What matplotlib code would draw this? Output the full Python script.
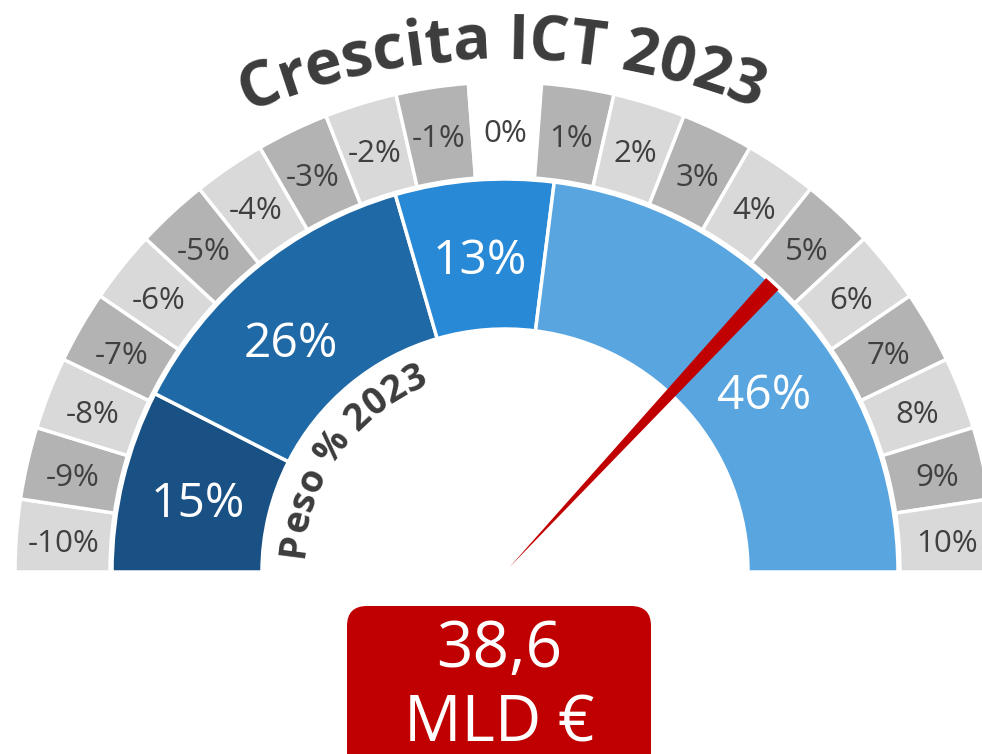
import matplotlib
matplotlib.use('Agg')
import numpy as np
import matplotlib.pyplot as plt
from matplotlib.patches import Wedge, Polygon, FancyBboxPatch
from matplotlib.font_manager import FontProperties

# --- dati ---
title = "Crescita ICT 2023"
inner_title = "Peso % 2023"
growth_ticks = list(range(-10, 11))
tick_labels = [f"{v}%" for v in growth_ticks]
weights = [15, 26, 13, 46]
weight_labels = [f"{w}%" for w in weights]
growth_value = 5.0
total_value = "38,6"
total_unit = "MLD €"

plt.rcParams['font.family'] = ['Open Sans', 'DejaVu Sans']

fig = plt.figure(figsize=(9.82, 7.54), dpi=100)
ax = fig.add_axes([0, 0, 1, 1])
# 1 unita' = 1 pixel, centro del gauge in (0, 0)
ax.set_xlim(-505, 477)
ax.set_ylim(-182, 572)
ax.axis('off')

text_gray = '#404040'
dark_text = '#3c3c3c'


def arc_text(s, r, center_deg, cy, size, **kw):
    # testo lungo un arco, in senso orario, con la parte alta verso l'esterno
    rend = fig.canvas.get_renderer()
    prop = FontProperties(family=plt.rcParams['font.family'], size=size,
                          weight=kw.get('fontweight', 'normal'))
    def w(t):
        return rend.get_text_width_height_descent(t, prop, ismath=False)[0]
    bar = w('|')
    lefts = [w(s[:i] + '|') - bar for i in range(len(s) + 1)]
    start = np.radians(center_deg) + lefts[-1] / 2 / r
    for i, ch in enumerate(s):
        if ch == ' ':
            continue
        a = start - (lefts[i] + lefts[i + 1]) / 2 / r
        ax.text(r * np.cos(a), cy + r * np.sin(a), ch,
                rotation=np.degrees(a) - 90, rotation_mode='anchor',
                ha='center', va='baseline', fontsize=size, **kw)


# --- anello esterno grigio (crescita) ---
n = len(growth_ticks)
step = 180 / n
for i, (v, lab) in enumerate(zip(growth_ticks, tick_labels)):
    t2 = 180 - i * step
    t1 = t2 - step
    if v == 0:
        fc = 'white'
    elif i % 2 == 0:
        fc = '#d9d9d9'
    else:
        fc = '#b3b3b3'
    ax.add_patch(Wedge((0, 0), 490, t1, t2, width=95, facecolor=fc,
                       edgecolor='white', linewidth=2.5))
    mid = np.radians((t1 + t2) / 2)
    ax.text(443 * np.cos(mid), 443 * np.sin(mid) - 5, lab, ha='center',
            va='center', fontsize=22.5, color=text_gray)

# --- anello blu (peso) ---
blues = ['#1a5184', '#1f6aa6', '#2889d6', '#58a5e0']
label_shift = [0, 3, 0, -6.5]
start = 180
for w, lab, c, sh in zip(weights, weight_labels, blues, label_shift):
    sweep = w / sum(weights) * 180
    ax.add_patch(Wedge((0, 0), 393, start - sweep, start, width=150,
                       facecolor=c, edgecolor='white', linewidth=2.5))
    mid = np.radians(start - sweep / 2 + sh)
    ax.text(316 * np.cos(mid), 318 * np.sin(mid) - 6, lab, ha='center',
            va='center', fontsize=34.5, color='white')
    start -= sweep

# --- lancetta ---
ang = np.radians(180 - (growth_value - growth_ticks[0] + 0.5) / n * 180)
d = np.array([np.cos(ang), np.sin(ang)])
p = np.array([-np.sin(ang), np.cos(ang)])
needle = Polygon([d * 6, d * 393 + p * 8.5, d * 393 - p * 8.5],
                 closed=True, facecolor='#c00000', edgecolor='none', zorder=5)
ax.add_patch(needle)

# --- testi curvi ---
arc_text(title, 655, 90.3, -142, 45, fontweight='bold', color=dark_text)
arc_text(inner_title, 203, 144, 0, 27, fontweight='bold', color=dark_text)

# --- box totale ---
box = FancyBboxPatch((-158, -260), 304, 226,
                     boxstyle='round,pad=0,rounding_size=20',
                     facecolor='#c00000', edgecolor='none')
ax.add_patch(box)
ax.text(-6, -95, total_value, ha='center', va='baseline', fontsize=46,
        color='white')
ax.text(-6, -169, total_unit, ha='center', va='baseline', fontsize=46,
        color='white')

fig.savefig('out.png', dpi=100, facecolor='white')
